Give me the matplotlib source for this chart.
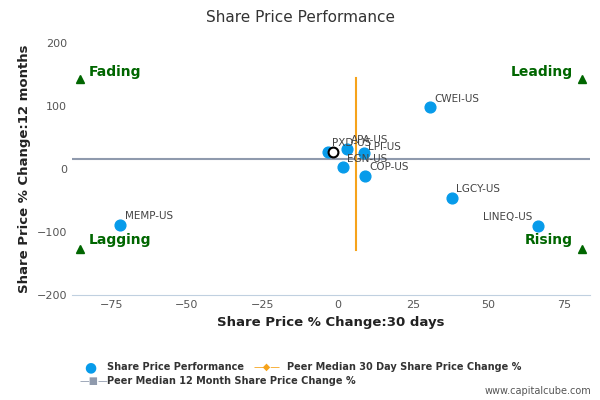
import matplotlib.pyplot as plt

names = ["MEMP-US", "CWEI-US", "LGCY-US", "LINEQ-US", "COP-US", "EGN-US", "PXD-US", "APA-US", "LPI-US"]
chg_30d = [-72, 30.5, 37.7, 66.5, 9, 1.6, -3.3, 3, 8.6]
chg_12m = [-89, 98, -46, -90, -10, 3, 28, 32, 25]
focus_x, focus_y = -1.6, 28
median_30d = 6
median_12m = 16
median_range_12m = [-129, 144]

fig = plt.figure(figsize=(6, 4), dpi=100)
ax = fig.add_axes([0.12, 0.262, 0.863, 0.63])
ax.set_xlim(-88, 83.5)
ax.set_ylim(-200, 200)
ax.plot([-88, 83.5], [median_12m] * 2, color="#8f9aad", lw=1.5, zorder=2)
ax.plot([median_30d] * 2, median_range_12m, color="#f6a31b", lw=1.5, zorder=2)
ax.scatter(chg_30d, chg_12m, s=60, color="#079bea", zorder=3)
ax.scatter([focus_x], [focus_y], s=50, facecolor="white", edgecolor="black", lw=1.5, zorder=4)
for n, x, y in zip(names, chg_30d, chg_12m):
    if n == "LINEQ-US":
        ax.text(x - 2, y + 6, n, fontsize=7.5, color="#444", ha="right", va="bottom")
    elif n == "LPI-US":
        ax.text(x + 1.5, y + 2, n, fontsize=7.5, color="#444", va="bottom")
    else:
        ax.text(x + 1.5, y + 6, n, fontsize=7.5, color="#444", va="bottom")

green = "#006600"
for (x, y, lab, ha, dy) in [(-85.4, 143, "Fading", "left", 12), (81, 143, "Leading", "right", 12),
                            (-85.4, -127, "Lagging", "left", 14), (81, -127, "Rising", "right", 14)]:
    ax.plot(x, y, "^", color=green, ms=6)
    ax.text(x + (3 if ha == "left" else -3), y + dy, lab, color=green, fontsize=10,
            fontweight="bold", ha=ha, va="center")

ax.set_xticks([-75, -50, -25, 0, 25, 50, 75])
ax.set_yticks([-200, -100, 0, 100, 200])
ax.tick_params(labelsize=8, colors="#555", length=0)
for s in ["top", "right", "left"]:
    ax.spines[s].set_visible(False)
ax.spines["bottom"].set_color("#c0d0e0")
ax.set_xlabel("Share Price % Change:30 days", fontsize=9.5, fontweight="bold", color="#222")
ax.set_ylabel("Share Price % Change:12 months", fontsize=9.5, fontweight="bold", color="#222")
fig.suptitle("Share Price Performance", y=0.975, fontsize=11, color="#333")

fig.text(0.14, 0.082, "●", color="#079bea", fontsize=10, va="center")
fig.text(0.178, 0.082, "Share Price Performance", fontsize=7, fontweight="bold", color="#333", va="center")
fig.text(0.422, 0.082, "—◆—", color="#f6a31b", fontsize=7, va="center")
fig.text(0.478, 0.082, "Peer Median 30 Day Share Price Change %", fontsize=7, fontweight="bold", color="#333", va="center")
fig.text(0.133, 0.047, "—■—", color="#8f9aad", fontsize=7, va="center")
fig.text(0.178, 0.047, "Peer Median 12 Month Share Price Change %", fontsize=7, fontweight="bold", color="#333", va="center")
fig.text(0.985, 0.015, "www.capitalcube.com", fontsize=7, color="#555", ha="right")
fig.savefig("out.png")
